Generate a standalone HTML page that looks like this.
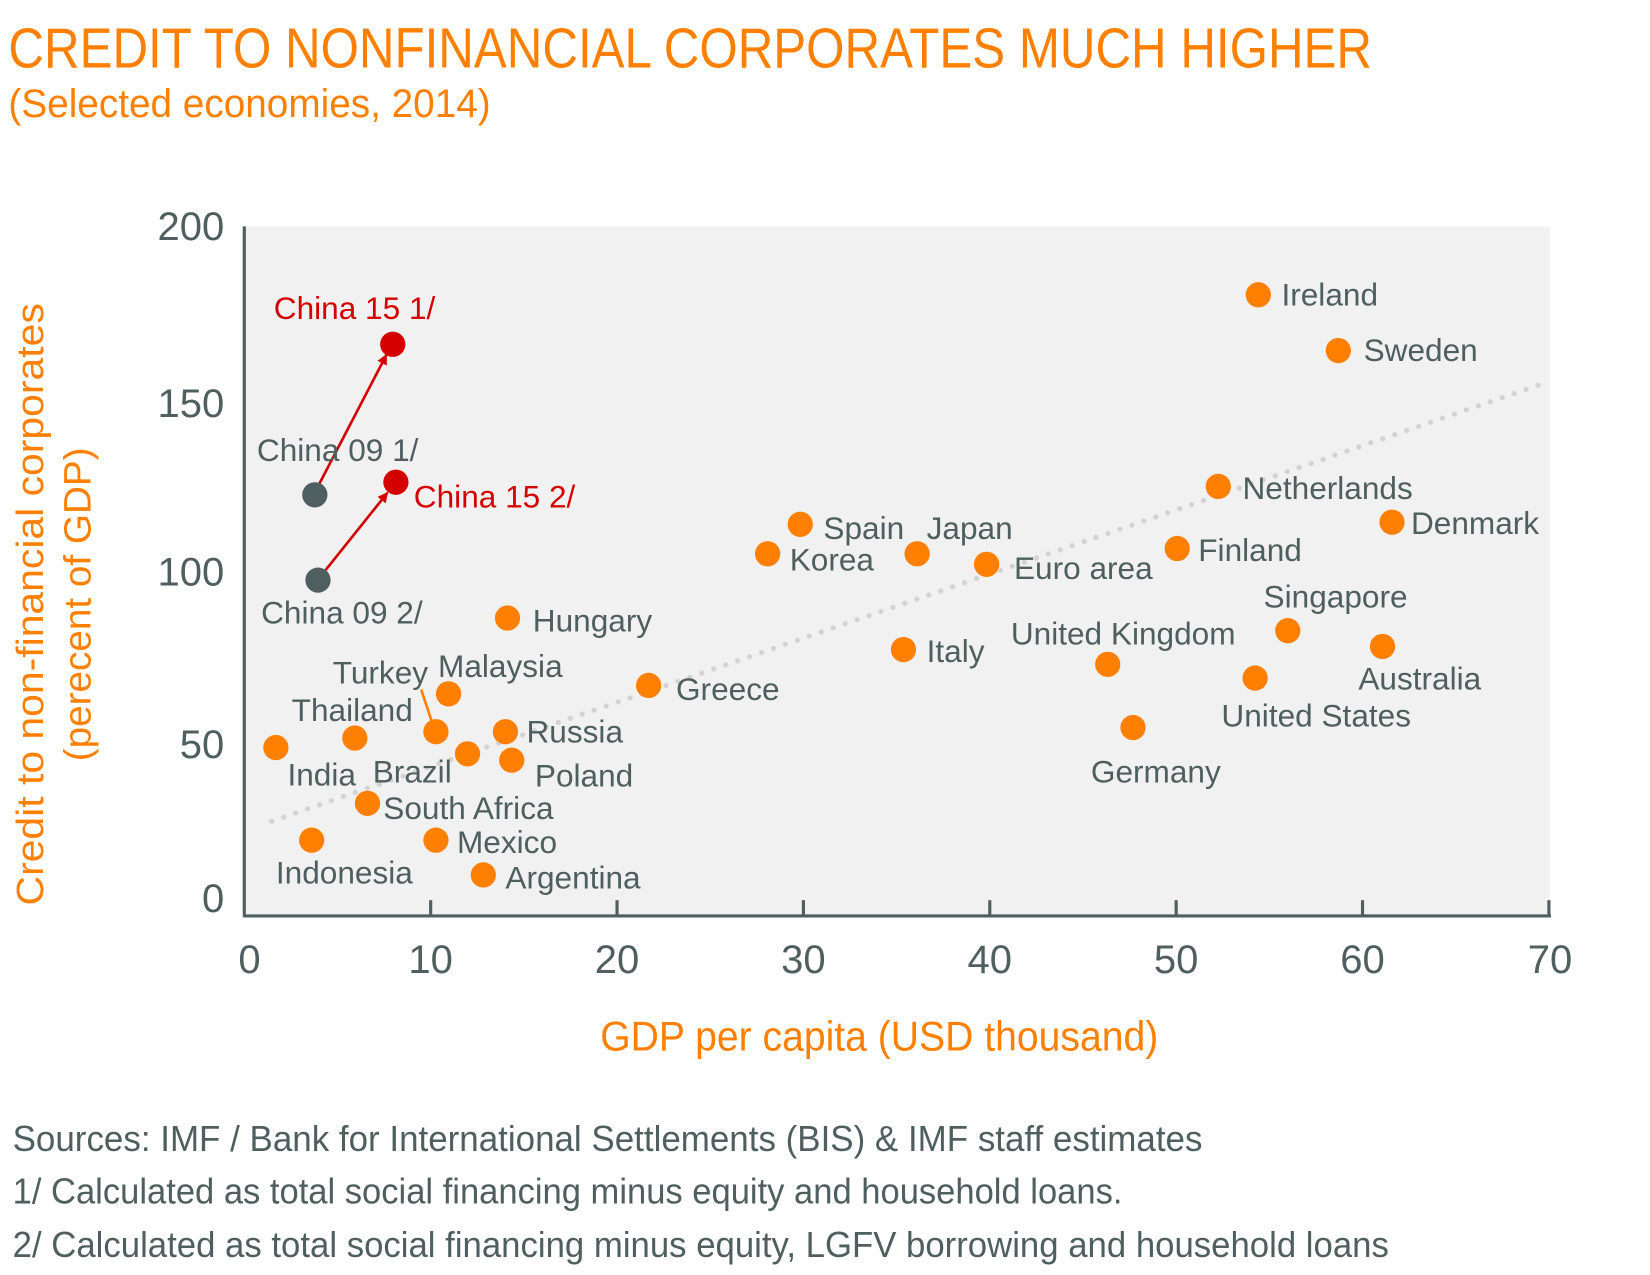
<!DOCTYPE html>
<html><head><meta charset="utf-8"><style>
html,body{margin:0;padding:0;background:#fff;}
svg{display:block;}
text{font-family:"Liberation Sans Narrow","Liberation Sans",sans-serif;}
.l{fill:#4f5f5f;font-size:30px;}
.t{fill:#4f5f5f;font-size:38px;}
</style></head><body>
<svg width="1650" height="1275" viewBox="0 0 1567 1211" preserveAspectRatio="none" xmlns="http://www.w3.org/2000/svg">
<text x="8" y="64" fill="#ff8000" font-size="54" textLength="1295" lengthAdjust="spacingAndGlyphs">CREDIT TO NONFINANCIAL CORPORATES MUCH HIGHER</text>
<text x="8" y="111" fill="#ff8000" font-size="38" textLength="458" lengthAdjust="spacingAndGlyphs">(Selected economies, 2014)</text>
<rect x="232" y="215" width="1240" height="655" fill="#f1f1f1"/>
<line x1="258" y1="780" x2="1472" y2="362" stroke="#d3d3d3" stroke-width="5" stroke-dasharray="0 12" stroke-linecap="round"/>
<g stroke="#4f5f5f" stroke-width="3">
<line x1="232" y1="215" x2="232" y2="871"/>
<line x1="231" y1="870" x2="1473" y2="870"/>
<line x1="409" y1="870" x2="409" y2="855"/><line x1="586" y1="870" x2="586" y2="855"/>
<line x1="763" y1="870" x2="763" y2="855"/><line x1="940" y1="870" x2="940" y2="855"/>
<line x1="1117" y1="870" x2="1117" y2="855"/><line x1="1294" y1="870" x2="1294" y2="855"/>
<line x1="1471" y1="870" x2="1471" y2="855"/>
</g>
<g class="t" text-anchor="end">
<text x="213" y="228">200</text><text x="213" y="396">150</text><text x="213" y="556">100</text><text x="213" y="720">50</text><text x="213" y="866">0</text>
</g>
<g class="t" text-anchor="middle">
<text x="237" y="924">0</text><text x="409" y="924">10</text><text x="586" y="924">20</text><text x="763" y="924">30</text><text x="940" y="924">40</text><text x="1117" y="924">50</text><text x="1294" y="924">60</text><text x="1472" y="924">70</text>
</g>
<text transform="translate(41,574) rotate(-90)" fill="#ff8000" font-size="36" text-anchor="middle" textLength="572" lengthAdjust="spacingAndGlyphs">Credit to non-financial corporates</text>
<text transform="translate(86,574) rotate(-90)" fill="#ff8000" font-size="36" text-anchor="middle" textLength="298" lengthAdjust="spacingAndGlyphs">(perecent of GDP)</text>
<text x="570" y="998" fill="#ff8000" font-size="40" textLength="530" lengthAdjust="spacingAndGlyphs">GDP per capita (USD thousand)</text>
<g fill="#4f5f5f" font-size="34">
<text x="12" y="1093" textLength="1130" lengthAdjust="spacingAndGlyphs">Sources: IMF / Bank for International Settlements (BIS) &amp; IMF staff estimates</text>
<text x="12" y="1143" textLength="1054" lengthAdjust="spacingAndGlyphs">1/ Calculated as total social financing minus equity and household loans.</text>
<text x="12" y="1194" textLength="1307" lengthAdjust="spacingAndGlyphs">2/ Calculated as total social financing minus equity, LGFV borrowing and household loans</text>
</g>
<defs><marker id="a" markerWidth="10" markerHeight="10" refX="9" refY="5" orient="auto" markerUnits="userSpaceOnUse"><path d="M0,0 L10,5 L0,10z" fill="#d40000"/></marker></defs>
<g stroke="#d40000" stroke-width="2.5">
<line x1="302" y1="462" x2="367" y2="337" marker-end="url(#a)"/>
<line x1="308" y1="543" x2="368" y2="468" marker-end="url(#a)"/>
</g>
<line x1="400" y1="655" x2="410" y2="685" stroke="#ff8000" stroke-width="2.5"/>
<g fill="#4f5f5f"><circle cx="299" cy="470" r="12"/><circle cx="302" cy="551" r="12"/></g>
<g fill="#d40000"><circle cx="373" cy="327" r="12"/><circle cx="376" cy="458" r="12"/></g>
<g fill="#ff8000">
<circle cx="1195" cy="280" r="12"/><circle cx="1271" cy="333" r="12"/><circle cx="1157" cy="462" r="12"/><circle cx="1322" cy="496" r="12"/>
<circle cx="1118" cy="521" r="12"/><circle cx="1223" cy="599" r="12"/><circle cx="1313" cy="614" r="12"/><circle cx="1192" cy="644" r="12"/>
<circle cx="1052" cy="631" r="12"/><circle cx="1076" cy="691" r="12"/><circle cx="937" cy="536" r="12"/><circle cx="871" cy="526" r="12"/>
<circle cx="858" cy="617" r="12"/><circle cx="760" cy="498" r="12"/><circle cx="729" cy="526" r="12"/><circle cx="616" cy="651" r="12"/>
<circle cx="482" cy="587" r="12"/><circle cx="426" cy="659" r="12"/><circle cx="414" cy="695" r="12"/><circle cx="480" cy="695" r="12"/>
<circle cx="444" cy="716" r="12"/><circle cx="486" cy="722" r="12"/><circle cx="337" cy="701" r="12"/><circle cx="262" cy="710" r="12"/>
<circle cx="349" cy="763" r="12"/><circle cx="296" cy="798" r="12"/><circle cx="414" cy="798" r="12"/><circle cx="459" cy="831" r="12"/>
</g>
<g class="l">
<text x="1217" y="290">Ireland</text><text x="1295" y="343">Sweden</text><text x="1180" y="474">Netherlands</text>
<text x="1340" y="507">Denmark</text><text x="1138" y="533">Finland</text><text x="1200" y="577">Singapore</text>
<text x="1290" y="655">Australia</text><text x="1160" y="690">United States</text><text x="960" y="612">United Kingdom</text>
<text x="1036" y="743">Germany</text><text x="963" y="550">Euro area</text><text x="880" y="512">Japan</text>
<text x="880" y="629">Italy</text><text x="782" y="512">Spain</text><text x="750" y="542">Korea</text>
<text x="642" y="665">Greece</text><text x="506" y="600">Hungary</text><text x="416" y="643">Malaysia</text>
<text x="316" y="649">Turkey</text><text x="277" y="685">Thailand</text><text x="500" y="705">Russia</text>
<text x="273" y="746">India</text><text x="354" y="743">Brazil</text><text x="508" y="747">Poland</text>
<text x="364" y="778">South Africa</text><text x="434" y="810">Mexico</text><text x="262" y="839">Indonesia</text>
<text x="480" y="844">Argentina</text>
<text x="244" y="438">China 09 1/</text><text x="248" y="592">China 09 2/</text>
</g>
<g class="l" style="fill:#d40000">
<text x="260" y="303">China 15 1/</text><text x="393" y="482">China 15 2/</text>
</g>
</svg>
</body></html>
